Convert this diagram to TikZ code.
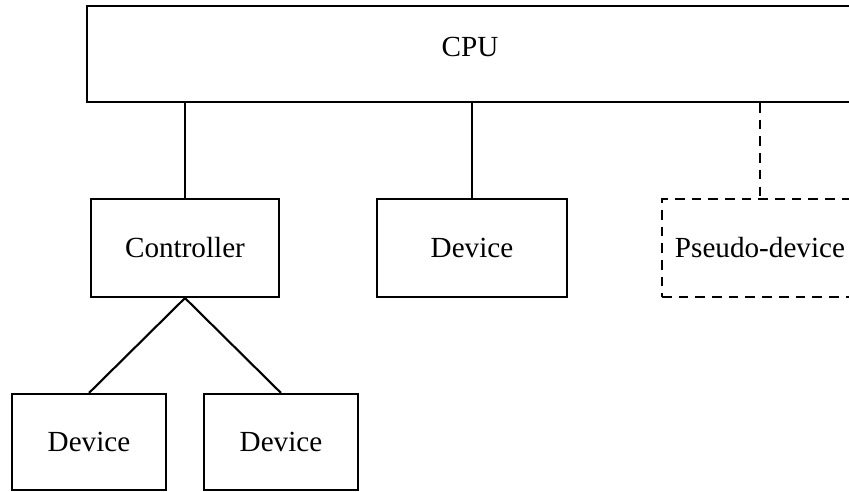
\documentclass[tikz,border=0pt]{standalone}
\usepackage{fontspec}
\setmainfont{Liberation Serif}

\begin{document}
\begin{tikzpicture} [x=0.02cm, y=-0.02cm]
    \tikzstyle{every node} = [align=center, font=\fontsize{16.6}{20}\selectfont]
    \tikzstyle{unit} = [draw, line width=1.2pt, minimum height=1.96cm]
    \tikzstyle{pseudo} = [draw, line width=1.2pt, dash pattern=on 5.5pt off 4pt]
    \tikzstyle{link} = [line width=1.2pt]
    \useasboundingbox (0,0) rectangle (849,491);
    % top row
    \node [unit, minimum width=15.32cm, minimum height=1.92cm, text depth=8pt] (cpu) at (470,54) {CPU};
    % middle row
    \node [unit, minimum width=3.76cm] (ctrl) at (185,248) {Controller};
    \node [unit, minimum width=3.80cm] (dev) at (472,248) {Device};
    \node [unit, pseudo, minimum width=3.92cm] (pdev) at (760,248) {Pseudo-device};
    % bottom row
    \node [unit, minimum width=3.08cm, minimum height=1.92cm] (devA) at (89,442) {Device};
    \node [unit, minimum width=3.08cm, minimum height=1.92cm] (devB) at (281,442) {Device};
    \draw [link] (cpu.south -| ctrl.north) -- (ctrl.north);
    \draw [link] (cpu.south -| dev.north) -- (dev.north);
    \draw [link, pseudo] (cpu.south -| pdev.north) -- (pdev.north);
    \draw [link] (ctrl.south) -- (devA.north);
    \draw [link] (ctrl.south) -- (devB.north);
\end{tikzpicture}
\end{document}
